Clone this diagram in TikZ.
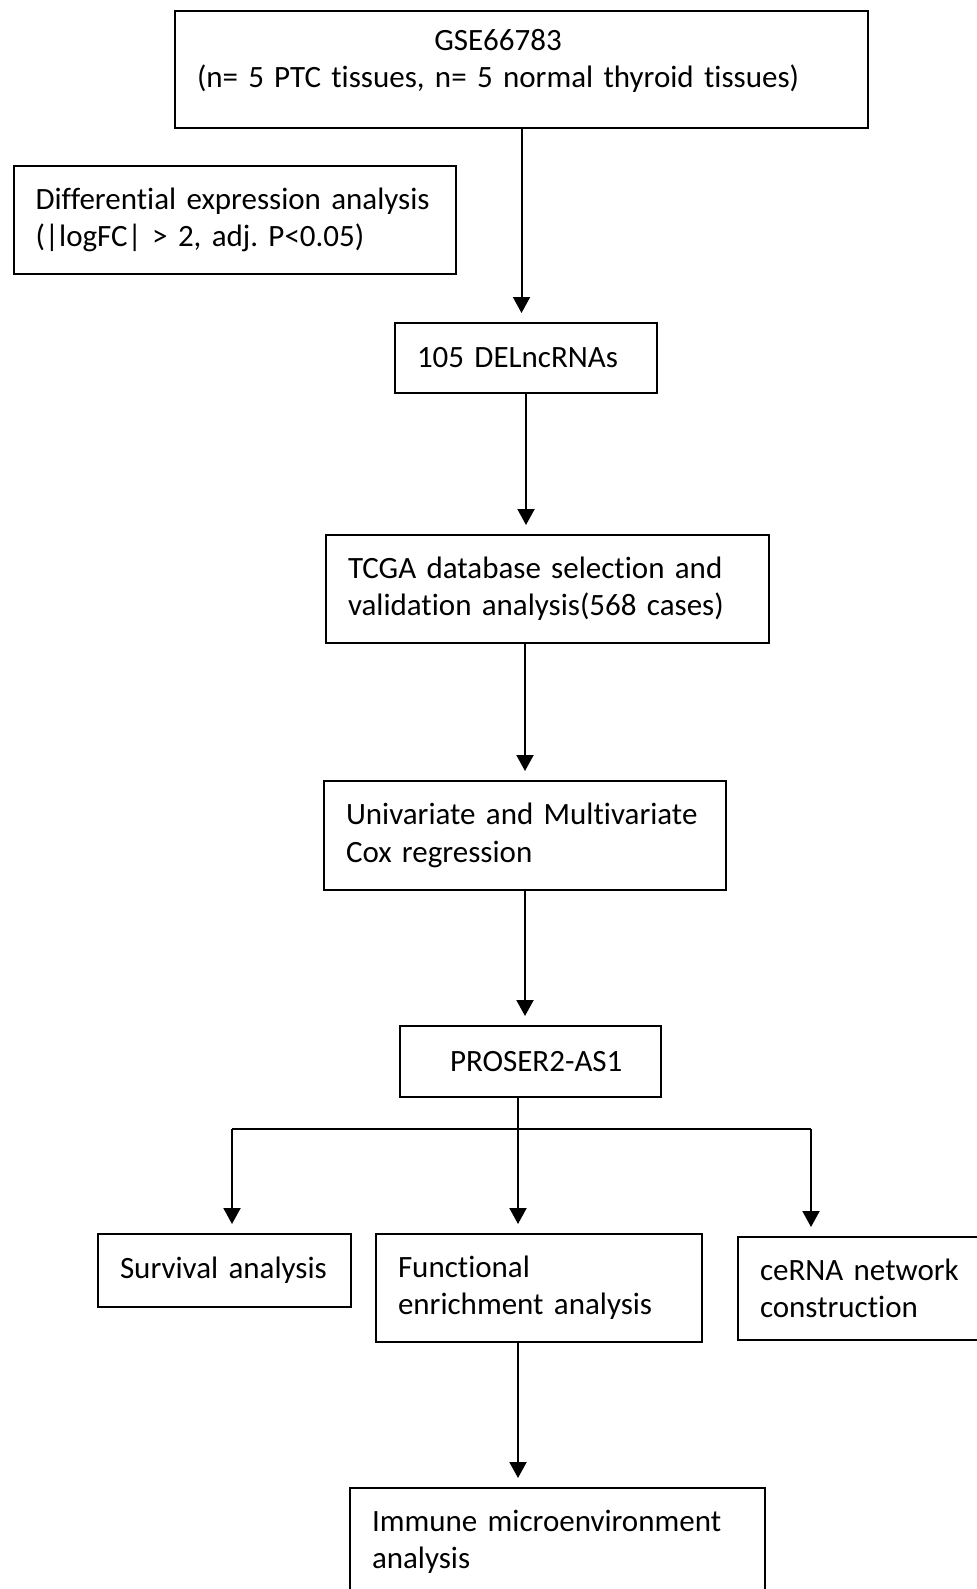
\documentclass[tikz,border=0pt]{standalone}
\usepackage{fontspec}
\setmainfont{Carlito}[Ligatures=NoCommon]
\usetikzlibrary{arrows.meta}
\frenchspacing

\begin{document}
\begin{tikzpicture}[x=0.5pt, y=-0.5pt, >={Triangle[width=8.5pt, length=8pt]},
  line width=1pt,
  stage/.style={draw, line width=1pt, anchor=north west, align=left,
    inner xsep=11pt, inner ysep=0pt,
    font=\fontsize{15.5}{18.7}\selectfont},
  flow/.style={->, shorten >=4.5pt}]
  \useasboundingbox (0,0) rectangle (976,1589);
  \node[stage, text width=324.5pt, minimum height=58.5pt] (gse) at (174,10)
    {\begin{tabular}{@{}c@{}}GSE66783\\
     (n= 5\hspace{5pt}PTC tissues, n= 5 normal thyroid tissues)\\[8pt]\end{tabular}};
  \node[stage, text width=199.25pt, minimum height=54pt] (dea) at (12.5,165)
    {Differential expression analysis\\(|logFC| > 2, adj. P<0.05)};
  \node[stage, text width=109pt, minimum height=35pt] (del) at (394,322)
    {105 DELncRNAs};
  \node[stage, text width=199.5pt, minimum height=54pt] (tcga) at (325,534)
    {TCGA database selection and\\validation analysis(568 cases)};
  \node[stage, text width=179pt, minimum height=54.5pt] (cox) at (323,780)
    {Univariate and Multivariate\\Cox regression};
  \node[stage, text width=108.5pt, minimum height=35.5pt] (pro) at (399,1025)
    {\hspace*{14pt}PROSER2-AS1};
  \node[stage, text width=104.5pt, minimum height=36.5pt] (surv) at (97,1233)
    {Survival analysis};
  \node[stage, text width=125pt, minimum height=51.5pt] (cerna) at (737,1236)
    {ceRNA network\\construction};
  \node[stage, text width=141pt, minimum height=54pt] (func) at (375,1233)
    {Functional\\enrichment analysis};
  \node[stage, text width=185.5pt, minimum height=54pt] (imm) at (349,1487)
    {Immune microenvironment\\analysis};
  % branch points
  \coordinate (split) at (518,1129);
  \coordinate (lsplit) at (232,1129);
  \coordinate (rsplit) at (811,1129);
  % main chain
  \draw[flow] (gse.south) -- (gse.south |- del.north);
  \draw[flow] (del.south) -- (del.south |- tcga.north);
  \draw[flow] (cox.north |- tcga.south) -- (cox.north);
  \draw[flow] (cox.south) -- (cox.south |- pro.north);
  % three branches
  \draw[flow] (pro.south -| split) -- (split |- func.north);
  \draw (lsplit) -- (rsplit);
  \draw[flow] (lsplit) -- (lsplit |- surv.north);
  \draw[flow] (rsplit) -- (rsplit |- cerna.north);
  \draw[flow] (func.south -| split) -- (split |- imm.north);
\end{tikzpicture}
\end{document}
